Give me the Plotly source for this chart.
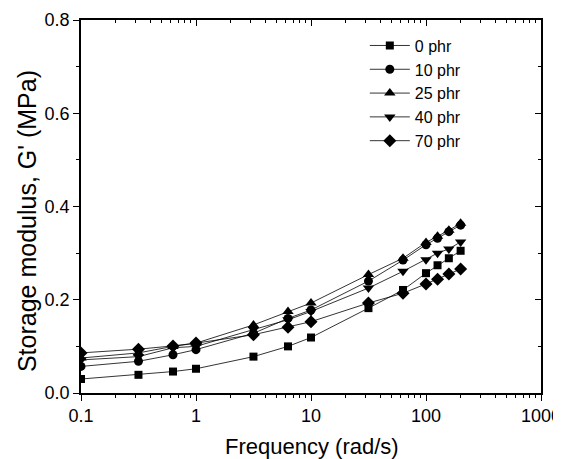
import plotly.graph_objects as go

freq = [0.1, 0.316, 0.631, 1, 3.16, 6.31, 10, 31.6, 63.1, 100, 126, 158, 200]

g_0phr = [0.030, 0.039, 0.046, 0.052, 0.078, 0.100, 0.119, 0.182, 0.221, 0.257, 0.274, 0.289, 0.305]
g_10phr = [0.057, 0.068, 0.082, 0.093, 0.128, 0.160, 0.178, 0.240, 0.285, 0.318, 0.332, 0.346, 0.360]
g_25phr = [0.075, 0.086, 0.100, 0.107, 0.146, 0.175, 0.193, 0.254, 0.289, 0.323, 0.336, 0.349, 0.364]
g_40phr = [0.071, 0.078, 0.097, 0.100, 0.136, 0.157, 0.175, 0.225, 0.261, 0.286, 0.300, 0.309, 0.324]
g_70phr = [0.086, 0.094, 0.101, 0.107, 0.125, 0.141, 0.153, 0.193, 0.214, 0.234, 0.244, 0.255, 0.266]

series_names = ["0 phr", "10 phr", "25 phr", "40 phr", "70 phr"]
series_values = [g_0phr, g_10phr, g_25phr, g_40phr, g_70phr]
symbols = ["square", "circle", "triangle-up", "triangle-down", "diamond"]
sizes = [8, 9, 10, 10, 10]

x_tickvals = [0.1, 1, 10, 100, 1000]
x_ticktext = ["0.1", "1", "10", "100", "1000"]
y_tickvals = [0.0, 0.2, 0.4, 0.6, 0.8]
y_ticktext = ["0.0", "0.2", "0.4", "0.6", "0.8"]
x_title = "Frequency (rad/s)"
y_title = "Storage modulus, G' (MPa)"

x_minor = [m * 10 ** e for e in range(-1, 3) for m in range(2, 10)]

fig = go.Figure()
for name, vals, sym, sz in zip(series_names, series_values, symbols, sizes):
    fig.add_trace(go.Scatter(
        x=freq, y=vals, name=name, mode="lines+markers",
        line=dict(color="black", width=0.8),
        marker=dict(symbol=sym, size=sz, color="black"),
    ))

# invisible trace for mirrored axes (inside ticks)
fig.add_trace(go.Scatter(x=[1], y=[0.4], xaxis="x2", yaxis="y2", mode="markers",
                         marker=dict(opacity=0), showlegend=False, hoverinfo="skip"))

font = "Liberation Sans, Arial, sans-serif"
# page body has an 8px default margin; compensate so the plot sits at the reference spot
fig.update_layout(
    width=561, height=459,
    margin=dict(l=73, r=28, t=12, b=74),
    paper_bgcolor="white", plot_bgcolor="white",
    font=dict(family=font, color="black", size=18),
    showlegend=True,
    legend=dict(x=0.617, y=0.977, xanchor="left", yanchor="top",
                bgcolor="rgba(0,0,0,0)", font=dict(size=16), tracegroupgap=0,
                itemwidth=40),
    xaxis=dict(
        type="log", range=[-1, 3], automargin=False,
        tickvals=x_tickvals, ticktext=x_ticktext,
        ticks="outside", ticklen=6, tickwidth=1, tickcolor="black",
        showline=True, linecolor="black", linewidth=1.5,
        showgrid=False, zeroline=False,
        minor=dict(ticks="outside", ticklen=3, tickcolor="black", showgrid=False,
                   tickvals=x_minor),
        tickfont=dict(size=18),
    ),
    yaxis=dict(
        range=[0, 0.8], automargin=False,
        tickvals=y_tickvals, ticktext=y_ticktext,
        ticks="outside", ticklen=6, tickwidth=1, tickcolor="black",
        showline=True, linecolor="black", linewidth=1.5,
        showgrid=False, zeroline=False,
        minor=dict(ticks="outside", ticklen=3, tickcolor="black", showgrid=False, dtick=0.1),
        tickfont=dict(size=18),
    ),
    xaxis2=dict(
        type="log", range=[-1, 3], overlaying="x", side="top", automargin=False,
        tickvals=x_tickvals, ticks="inside", ticklen=6, tickcolor="black",
        showticklabels=False, showline=True, linecolor="black", linewidth=1.5,
        showgrid=False, zeroline=False,
        minor=dict(ticks="inside", ticklen=3, tickcolor="black", showgrid=False,
                   tickvals=x_minor),
    ),
    yaxis2=dict(
        range=[0, 0.8], overlaying="y", side="right", automargin=False,
        tickvals=y_tickvals, ticks="inside", ticklen=6, tickcolor="black",
        showticklabels=False, showline=True, linecolor="black", linewidth=1.5,
        showgrid=False, zeroline=False,
        minor=dict(ticks="inside", ticklen=3, tickcolor="black", showgrid=False, dtick=0.1),
    ),
    annotations=[
        dict(text=x_title, xref="paper", yref="paper", x=0.502, y=-0.144,
             xanchor="center", yanchor="middle", showarrow=False,
             font=dict(size=22)),
        dict(text=y_title, xref="paper", yref="paper", x=-0.1159, y=0.46,
             xanchor="center", yanchor="middle", showarrow=False, textangle=-90,
             font=dict(size=25)),
    ],
)

fig.write_html("out.html")
